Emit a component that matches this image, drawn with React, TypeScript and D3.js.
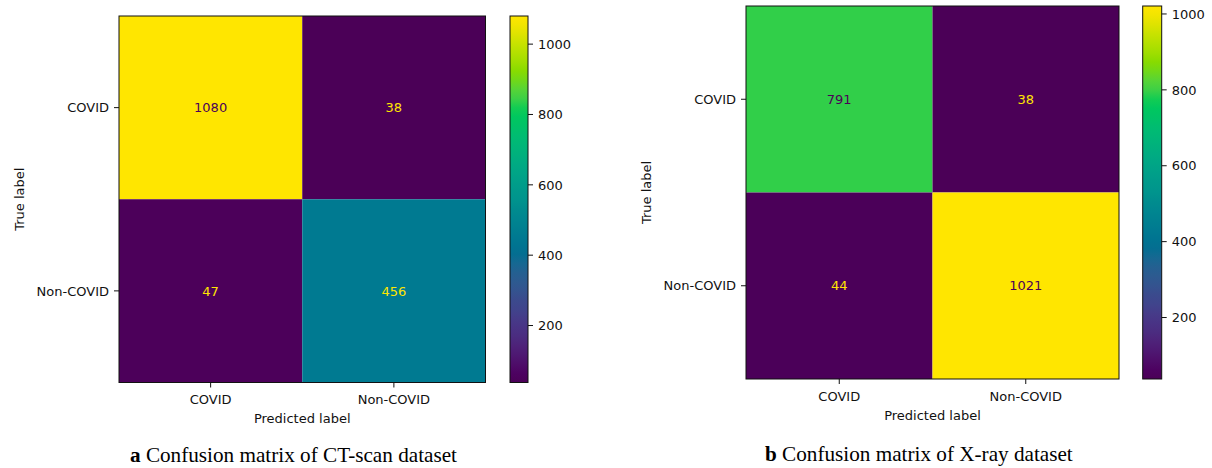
import React from "react";
import * as d3 from "d3";

// Class names shared by both confusion matrices
const classes = ["COVID", "Non-COVID"];

// Confusion matrix counts, rows = true label, columns = predicted label
const ctScanCounts = [
  [1080, 38],
  [47, 456],
];
const xrayCounts = [
  [791, 38],
  [44, 1021],
];

// Colorbar tick values
const colorbarTicks = [200, 400, 600, 800, 1000];

// Panel captions
const captionLetters = ["a", "b"];
const captionTexts = [
  " Confusion matrix of CT-scan dataset",
  " Confusion matrix of X-ray dataset",
];

const SANS = "'DejaVu Sans', sans-serif";
const SERIF = "'Liberation Serif', 'Times New Roman', serif";
const FS = 13;

// Viridis rendered through a wide-gamut (Display P3) profile, giving the
// more saturated palette of the figure.
const toLin = (c: number) => (c <= 0.04045 ? c / 12.92 : Math.pow((c + 0.055) / 1.055, 2.4));
const toGamma = (c: number) => {
  const v = Math.max(0, Math.min(1, c));
  return v <= 0.0031308 ? 12.92 * v : 1.055 * Math.pow(v, 1 / 2.4) - 0.055;
};
function palette(t: number): string {
  const c = d3.rgb(d3.interpolateViridis(t));
  const r = toLin(c.r / 255);
  const g = toLin(c.g / 255);
  const b = toLin(c.b / 255);
  const R = 1.2249 * r - 0.2247 * g;
  const G = -0.042 * r + 1.0419 * g;
  const B = -0.0197 * r - 0.0786 * g + 1.0979 * b;
  return d3.rgb(toGamma(R) * 255, toGamma(G) * 255, toGamma(B) * 255).formatHex();
}

type PanelProps = {
  id: string;
  counts: number[][];
  x: number;
  y: number;
  size: number;
  cbX: number;
  cbW: number;
  ylabelX: number;
  caption: string;
  letter: string;
  captionX: number;
  captionY: number;
};

function MatrixPanel(p: PanelProps) {
  const flat = p.counts.flat();
  const vmin = d3.min(flat) as number;
  const vmax = d3.max(flat) as number;
  const norm = d3.scaleLinear().domain([vmin, vmax]).range([0, 1]).clamp(true);
  const color = (v: number) => palette(norm(v));
  const threshold = (vmin + vmax) / 2;

  const xs = d3.scaleBand<string>().domain(classes).range([p.x, p.x + p.size]);
  const ys = d3.scaleBand<string>().domain(classes).range([p.y, p.y + p.size]);
  const cbScale = d3.scaleLinear().domain([vmin, vmax]).range([p.y + p.size, p.y]);

  const bottom = p.y + p.size;
  const tickLen = 5;
  const gradId = `grad-${p.id}`;
  const stops = d3.range(0, 1.0001, 0.025);

  return (
    <g>
      <defs>
        <linearGradient id={gradId} x1="0" y1="1" x2="0" y2="0">
          {stops.map((t) => (
            <stop key={t} offset={t} stopColor={palette(t)} />
          ))}
        </linearGradient>
      </defs>

      {/* heatmap cells */}
      {p.counts.map((row, i) =>
        row.map((v, j) => (
          <rect
            key={`c${i}${j}`}
            x={xs(classes[j])}
            y={ys(classes[i])}
            width={xs.bandwidth()}
            height={ys.bandwidth()}
            fill={color(v)}
          />
        ))
      )}

      {/* cell annotations */}
      {p.counts.map((row, i) =>
        row.map((v, j) => (
          <text
            key={`t${i}${j}`}
            x={(xs(classes[j]) as number) + xs.bandwidth() / 2}
            y={(ys(classes[i]) as number) + ys.bandwidth() / 2}
            dy="0.36em"
            textAnchor="middle"
            fontFamily={SANS}
            fontSize={FS}
            fill={v < threshold ? palette(1) : palette(0)}
          >
            {v}
          </text>
        ))
      )}

      {/* axes frame */}
      <rect x={p.x} y={p.y} width={p.size} height={p.size} fill="none" stroke="#111" strokeWidth={1} />

      {/* x ticks */}
      {classes.map((c) => {
        const cx = (xs(c) as number) + xs.bandwidth() / 2;
        return (
          <g key={`xt${c}`}>
            <line x1={cx} x2={cx} y1={bottom} y2={bottom + tickLen} stroke="#111" strokeWidth={1} />
            <text x={cx} y={bottom + 21.5} textAnchor="middle" fontFamily={SANS} fontSize={FS} fill="#111">
              {c}
            </text>
          </g>
        );
      })}
      <text
        x={p.x + p.size / 2}
        y={bottom + 40.5}
        textAnchor="middle"
        fontFamily={SANS}
        fontSize={FS}
        fill="#111"
      >
        Predicted label
      </text>

      {/* y ticks */}
      {classes.map((c) => {
        const cy = (ys(c) as number) + ys.bandwidth() / 2;
        return (
          <g key={`yt${c}`}>
            <line x1={p.x - tickLen} x2={p.x} y1={cy} y2={cy} stroke="#111" strokeWidth={1} />
            <text x={p.x - 10} y={cy} dy="0.36em" textAnchor="end" fontFamily={SANS} fontSize={FS} fill="#111">
              {c}
            </text>
          </g>
        );
      })}
      <text
        transform={`translate(${p.ylabelX},${p.y + p.size / 2}) rotate(-90)`}
        textAnchor="middle"
        fontFamily={SANS}
        fontSize={FS}
        fill="#111"
      >
        True label
      </text>

      {/* colorbar */}
      <rect x={p.cbX} y={p.y} width={p.cbW} height={p.size} fill={`url(#${gradId})`} stroke="#111" strokeWidth={1} />
      {colorbarTicks.map((t) => {
        const ty = cbScale(t);
        const rx = p.cbX + p.cbW;
        return (
          <g key={`cb${t}`}>
            <line x1={rx} x2={rx + tickLen} y1={ty} y2={ty} stroke="#111" strokeWidth={1} />
            <text x={rx + 10} y={ty} dy="0.36em" fontFamily={SANS} fontSize={FS} fill="#111">
              {t}
            </text>
          </g>
        );
      })}

      {/* caption */}
      <text x={p.captionX} y={p.captionY} fontFamily={SERIF} fontSize={21.2} fill="#000">
        <tspan fontWeight="bold">{p.letter}</tspan>
        <tspan>{p.caption}</tspan>
      </text>
    </g>
  );
}

export default function App() {
  return (
    <svg
      width={1212}
      height={468}
      viewBox="0 0 1212 468"
      style={{ position: "absolute", left: 0, top: 0, background: "#fff" }}
    >
      <rect width={1212} height={468} fill="#fff" />
      <MatrixPanel
        id="ct"
        counts={ctScanCounts}
        x={119}
        y={16}
        size={366.5}
        cbX={510}
        cbW={18}
        ylabelX={24}
        letter={captionLetters[0]}
        caption={captionTexts[0]}
        captionX={130}
        captionY={461.5}
      />
      <MatrixPanel
        id="xray"
        counts={xrayCounts}
        x={746}
        y={6}
        size={373}
        cbX={1142.7}
        cbW={19}
        ylabelX={651}
        letter={captionLetters[1]}
        caption={captionTexts[1]}
        captionX={765}
        captionY={461}
      />
    </svg>
  );
}
